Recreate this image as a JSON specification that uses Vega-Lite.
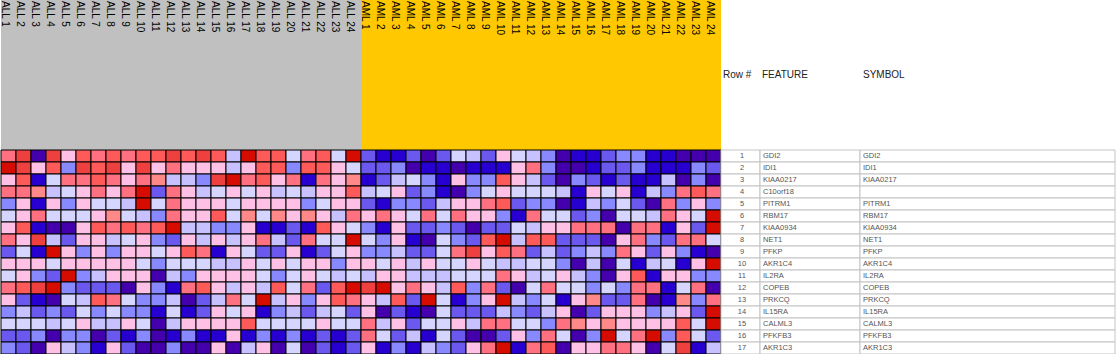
{
"$schema": "https://vega.github.io/schema/vega-lite/v6.json",
"padding": 0,
"background": "white",
"spacing": 0,
"bounds": "flush",
"align": "each",
"columns": 4,
"config": {"view": {"stroke": null}, "concat": {"spacing": 0}, "font": "Liberation Sans"},
"datasets": {
"samples": [
{"s":"ALL 1","g":"ALL"},{"s":"ALL 2","g":"ALL"},{"s":"ALL 3","g":"ALL"},{"s":"ALL 4","g":"ALL"},{"s":"ALL 5","g":"ALL"},{"s":"ALL 6","g":"ALL"},{"s":"ALL 7","g":"ALL"},{"s":"ALL 8","g":"ALL"},{"s":"ALL 9","g":"ALL"},{"s":"ALL 10","g":"ALL"},{"s":"ALL 11","g":"ALL"},{"s":"ALL 12","g":"ALL"},{"s":"ALL 13","g":"ALL"},{"s":"ALL 14","g":"ALL"},{"s":"ALL 15","g":"ALL"},{"s":"ALL 16","g":"ALL"},{"s":"ALL 17","g":"ALL"},{"s":"ALL 18","g":"ALL"},{"s":"ALL 19","g":"ALL"},{"s":"ALL 20","g":"ALL"},{"s":"ALL 21","g":"ALL"},{"s":"ALL 22","g":"ALL"},{"s":"ALL 23","g":"ALL"},{"s":"ALL 24","g":"ALL"},
{"s":"AML 1","g":"AML"},{"s":"AML 2","g":"AML"},{"s":"AML 3","g":"AML"},{"s":"AML 4","g":"AML"},{"s":"AML 5","g":"AML"},{"s":"AML 6","g":"AML"},{"s":"AML 7","g":"AML"},{"s":"AML 8","g":"AML"},{"s":"AML 9","g":"AML"},{"s":"AML 10","g":"AML"},{"s":"AML 11","g":"AML"},{"s":"AML 12","g":"AML"},{"s":"AML 13","g":"AML"},{"s":"AML 14","g":"AML"},{"s":"AML 15","g":"AML"},{"s":"AML 16","g":"AML"},{"s":"AML 17","g":"AML"},{"s":"AML 18","g":"AML"},{"s":"AML 19","g":"AML"},{"s":"AML 20","g":"AML"},{"s":"AML 21","g":"AML"},{"s":"AML 22","g":"AML"},{"s":"AML 23","g":"AML"},{"s":"AML 24","g":"AML"}
],
"genes": [
{"row":1,"feature":"GDI2","symbol":"GDI2"},
{"row":2,"feature":"IDI1","symbol":"IDI1"},
{"row":3,"feature":"KIAA0217","symbol":"KIAA0217"},
{"row":4,"feature":"C10orf18","symbol":""},
{"row":5,"feature":"PITRM1","symbol":"PITRM1"},
{"row":6,"feature":"RBM17","symbol":"RBM17"},
{"row":7,"feature":"KIAA0934","symbol":"KIAA0934"},
{"row":8,"feature":"NET1","symbol":"NET1"},
{"row":9,"feature":"PFKP","symbol":"PFKP"},
{"row":10,"feature":"AKR1C4","symbol":"AKR1C4"},
{"row":11,"feature":"IL2RA","symbol":"IL2RA"},
{"row":12,"feature":"COPEB","symbol":"COPEB"},
{"row":13,"feature":"PRKCQ","symbol":"PRKCQ"},
{"row":14,"feature":"IL15RA","symbol":"IL15RA"},
{"row":15,"feature":"CALML3","symbol":"CALML3"},
{"row":16,"feature":"PFKFB3","symbol":"PFKFB3"},
{"row":17,"feature":"AKR1C3","symbol":"AKR1C3"}
],
"cells": [
{"s":"ALL 1","r":1,"v":8},{"s":"ALL 2","r":1,"v":10},{"s":"ALL 3","r":1,"v":0},{"s":"ALL 4","r":1,"v":10},{"s":"ALL 5","r":1,"v":6},{"s":"ALL 6","r":1,"v":9},{"s":"ALL 7","r":1,"v":8},{"s":"ALL 8","r":1,"v":9},{"s":"ALL 9","r":1,"v":8},{"s":"ALL 10","r":1,"v":9},{"s":"ALL 11","r":1,"v":9},{"s":"ALL 12","r":1,"v":10},
{"s":"ALL 13","r":1,"v":9},{"s":"ALL 14","r":1,"v":10},{"s":"ALL 15","r":1,"v":9},{"s":"ALL 16","r":1,"v":4},{"s":"ALL 17","r":1,"v":11},{"s":"ALL 18","r":1,"v":9},{"s":"ALL 19","r":1,"v":9},{"s":"ALL 20","r":1,"v":5},{"s":"ALL 21","r":1,"v":8},{"s":"ALL 22","r":1,"v":9},{"s":"ALL 23","r":1,"v":5},{"s":"ALL 24","r":1,"v":11},
{"s":"AML 1","r":1,"v":2},{"s":"AML 2","r":1,"v":1},{"s":"AML 3","r":1,"v":1},{"s":"AML 4","r":1,"v":2},{"s":"AML 5","r":1,"v":0},{"s":"AML 6","r":1,"v":2},{"s":"AML 7","r":1,"v":5},{"s":"AML 8","r":1,"v":4},{"s":"AML 9","r":1,"v":2},{"s":"AML 10","r":1,"v":6},{"s":"AML 11","r":1,"v":5},{"s":"AML 12","r":1,"v":4},
{"s":"AML 13","r":1,"v":3},{"s":"AML 14","r":1,"v":0},{"s":"AML 15","r":1,"v":1},{"s":"AML 16","r":1,"v":1},{"s":"AML 17","r":1,"v":2},{"s":"AML 18","r":1,"v":3},{"s":"AML 19","r":1,"v":3},{"s":"AML 20","r":1,"v":1},{"s":"AML 21","r":1,"v":1},{"s":"AML 22","r":1,"v":0},{"s":"AML 23","r":1,"v":0},{"s":"AML 24","r":1,"v":0},
{"s":"ALL 1","r":2,"v":11},{"s":"ALL 2","r":2,"v":10},{"s":"ALL 3","r":2,"v":6},{"s":"ALL 4","r":2,"v":9},{"s":"ALL 5","r":2,"v":3},{"s":"ALL 6","r":2,"v":10},{"s":"ALL 7","r":2,"v":9},{"s":"ALL 8","r":2,"v":10},{"s":"ALL 9","r":2,"v":6},{"s":"ALL 10","r":2,"v":10},{"s":"ALL 11","r":2,"v":6},{"s":"ALL 12","r":2,"v":8},
{"s":"ALL 13","r":2,"v":6},{"s":"ALL 14","r":2,"v":6},{"s":"ALL 15","r":2,"v":6},{"s":"ALL 16","r":2,"v":4},{"s":"ALL 17","r":2,"v":6},{"s":"ALL 18","r":2,"v":9},{"s":"ALL 19","r":2,"v":9},{"s":"ALL 20","r":2,"v":3},{"s":"ALL 21","r":2,"v":9},{"s":"ALL 22","r":2,"v":9},{"s":"ALL 23","r":2,"v":6},{"s":"ALL 24","r":2,"v":5},
{"s":"AML 1","r":2,"v":2},{"s":"AML 2","r":2,"v":2},{"s":"AML 3","r":2,"v":3},{"s":"AML 4","r":2,"v":0},{"s":"AML 5","r":2,"v":1},{"s":"AML 6","r":2,"v":1},{"s":"AML 7","r":2,"v":0},{"s":"AML 8","r":2,"v":1},{"s":"AML 9","r":2,"v":1},{"s":"AML 10","r":2,"v":1},{"s":"AML 11","r":2,"v":6},{"s":"AML 12","r":2,"v":8},
{"s":"AML 13","r":2,"v":3},{"s":"AML 14","r":2,"v":0},{"s":"AML 15","r":2,"v":0},{"s":"AML 16","r":2,"v":1},{"s":"AML 17","r":2,"v":2},{"s":"AML 18","r":2,"v":2},{"s":"AML 19","r":2,"v":3},{"s":"AML 20","r":2,"v":1},{"s":"AML 21","r":2,"v":1},{"s":"AML 22","r":2,"v":1},{"s":"AML 23","r":2,"v":3},{"s":"AML 24","r":2,"v":2},
{"s":"ALL 1","r":3,"v":6},{"s":"ALL 2","r":3,"v":9},{"s":"ALL 3","r":3,"v":1},{"s":"ALL 4","r":3,"v":5},{"s":"ALL 5","r":3,"v":8},{"s":"ALL 6","r":3,"v":8},{"s":"ALL 7","r":3,"v":9},{"s":"ALL 8","r":3,"v":8},{"s":"ALL 9","r":3,"v":6},{"s":"ALL 10","r":3,"v":8},{"s":"ALL 11","r":3,"v":7},{"s":"ALL 12","r":3,"v":4},
{"s":"ALL 13","r":3,"v":4},{"s":"ALL 14","r":3,"v":3},{"s":"ALL 15","r":3,"v":10},{"s":"ALL 16","r":3,"v":11},{"s":"ALL 17","r":3,"v":8},{"s":"ALL 18","r":3,"v":9},{"s":"ALL 19","r":3,"v":6},{"s":"ALL 20","r":3,"v":8},{"s":"ALL 21","r":3,"v":1},{"s":"ALL 22","r":3,"v":8},{"s":"ALL 23","r":3,"v":6},{"s":"ALL 24","r":3,"v":7},
{"s":"AML 1","r":3,"v":1},{"s":"AML 2","r":3,"v":2},{"s":"AML 3","r":3,"v":4},{"s":"AML 4","r":3,"v":5},{"s":"AML 5","r":3,"v":3},{"s":"AML 6","r":3,"v":1},{"s":"AML 7","r":3,"v":6},{"s":"AML 8","r":3,"v":3},{"s":"AML 9","r":3,"v":3},{"s":"AML 10","r":3,"v":9},{"s":"AML 11","r":3,"v":6},{"s":"AML 12","r":3,"v":4},
{"s":"AML 13","r":3,"v":2},{"s":"AML 14","r":3,"v":0},{"s":"AML 15","r":3,"v":3},{"s":"AML 16","r":3,"v":2},{"s":"AML 17","r":3,"v":1},{"s":"AML 18","r":3,"v":2},{"s":"AML 19","r":3,"v":1},{"s":"AML 20","r":3,"v":1},{"s":"AML 21","r":3,"v":4},{"s":"AML 22","r":3,"v":0},{"s":"AML 23","r":3,"v":3},{"s":"AML 24","r":3,"v":0},
{"s":"ALL 1","r":4,"v":8},{"s":"ALL 2","r":4,"v":8},{"s":"ALL 3","r":4,"v":7},{"s":"ALL 4","r":4,"v":4},{"s":"ALL 5","r":4,"v":5},{"s":"ALL 6","r":4,"v":6},{"s":"ALL 7","r":4,"v":8},{"s":"ALL 8","r":4,"v":6},{"s":"ALL 9","r":4,"v":8},{"s":"ALL 10","r":4,"v":11},{"s":"ALL 11","r":4,"v":2},{"s":"ALL 12","r":4,"v":8},
{"s":"ALL 13","r":4,"v":6},{"s":"ALL 14","r":4,"v":4},{"s":"ALL 15","r":4,"v":5},{"s":"ALL 16","r":4,"v":6},{"s":"ALL 17","r":4,"v":5},{"s":"ALL 18","r":4,"v":6},{"s":"ALL 19","r":4,"v":4},{"s":"ALL 20","r":4,"v":5},{"s":"ALL 21","r":4,"v":4},{"s":"ALL 22","r":4,"v":6},{"s":"ALL 23","r":4,"v":6},{"s":"ALL 24","r":4,"v":9},
{"s":"AML 1","r":4,"v":4},{"s":"AML 2","r":4,"v":5},{"s":"AML 3","r":4,"v":6},{"s":"AML 4","r":4,"v":2},{"s":"AML 5","r":4,"v":3},{"s":"AML 6","r":4,"v":1},{"s":"AML 7","r":4,"v":0},{"s":"AML 8","r":4,"v":3},{"s":"AML 9","r":4,"v":5},{"s":"AML 10","r":4,"v":6},{"s":"AML 11","r":4,"v":5},{"s":"AML 12","r":4,"v":5},
{"s":"AML 13","r":4,"v":5},{"s":"AML 14","r":4,"v":4},{"s":"AML 15","r":4,"v":1},{"s":"AML 16","r":4,"v":6},{"s":"AML 17","r":4,"v":5},{"s":"AML 18","r":4,"v":6},{"s":"AML 19","r":4,"v":1},{"s":"AML 20","r":4,"v":4},{"s":"AML 21","r":4,"v":3},{"s":"AML 22","r":4,"v":8},{"s":"AML 23","r":4,"v":9},{"s":"AML 24","r":4,"v":8},
{"s":"ALL 1","r":5,"v":3},{"s":"ALL 2","r":5,"v":6},{"s":"ALL 3","r":5,"v":1},{"s":"ALL 4","r":5,"v":6},{"s":"ALL 5","r":5,"v":3},{"s":"ALL 6","r":5,"v":6},{"s":"ALL 7","r":5,"v":5},{"s":"ALL 8","r":5,"v":5},{"s":"ALL 9","r":5,"v":4},{"s":"ALL 10","r":5,"v":11},{"s":"ALL 11","r":5,"v":5},{"s":"ALL 12","r":5,"v":8},
{"s":"ALL 13","r":5,"v":6},{"s":"ALL 14","r":5,"v":6},{"s":"ALL 15","r":5,"v":6},{"s":"ALL 16","r":5,"v":5},{"s":"ALL 17","r":5,"v":6},{"s":"ALL 18","r":5,"v":6},{"s":"ALL 19","r":5,"v":6},{"s":"ALL 20","r":5,"v":6},{"s":"ALL 21","r":5,"v":3},{"s":"ALL 22","r":5,"v":5},{"s":"ALL 23","r":5,"v":6},{"s":"ALL 24","r":5,"v":6},
{"s":"AML 1","r":5,"v":2},{"s":"AML 2","r":5,"v":1},{"s":"AML 3","r":5,"v":3},{"s":"AML 4","r":5,"v":3},{"s":"AML 5","r":5,"v":2},{"s":"AML 6","r":5,"v":4},{"s":"AML 7","r":5,"v":6},{"s":"AML 8","r":5,"v":6},{"s":"AML 9","r":5,"v":8},{"s":"AML 10","r":5,"v":9},{"s":"AML 11","r":5,"v":2},{"s":"AML 12","r":5,"v":3},
{"s":"AML 13","r":5,"v":3},{"s":"AML 14","r":5,"v":0},{"s":"AML 15","r":5,"v":1},{"s":"AML 16","r":5,"v":4},{"s":"AML 17","r":5,"v":3},{"s":"AML 18","r":5,"v":5},{"s":"AML 19","r":5,"v":2},{"s":"AML 20","r":5,"v":0},{"s":"AML 21","r":5,"v":8},{"s":"AML 22","r":5,"v":3},{"s":"AML 23","r":5,"v":6},{"s":"AML 24","r":5,"v":3},
{"s":"ALL 1","r":6,"v":5},{"s":"ALL 2","r":6,"v":6},{"s":"ALL 3","r":6,"v":8},{"s":"ALL 4","r":6,"v":5},{"s":"ALL 5","r":6,"v":5},{"s":"ALL 6","r":6,"v":5},{"s":"ALL 7","r":6,"v":6},{"s":"ALL 8","r":6,"v":7},{"s":"ALL 9","r":6,"v":5},{"s":"ALL 10","r":6,"v":4},{"s":"ALL 11","r":6,"v":3},{"s":"ALL 12","r":6,"v":8},
{"s":"ALL 13","r":6,"v":6},{"s":"ALL 14","r":6,"v":6},{"s":"ALL 15","r":6,"v":9},{"s":"ALL 16","r":6,"v":5},{"s":"ALL 17","r":6,"v":7},{"s":"ALL 18","r":6,"v":5},{"s":"ALL 19","r":6,"v":7},{"s":"ALL 20","r":6,"v":6},{"s":"ALL 21","r":6,"v":7},{"s":"ALL 22","r":6,"v":6},{"s":"ALL 23","r":6,"v":4},{"s":"ALL 24","r":6,"v":8},
{"s":"AML 1","r":6,"v":6},{"s":"AML 2","r":6,"v":8},{"s":"AML 3","r":6,"v":6},{"s":"AML 4","r":6,"v":5},{"s":"AML 5","r":6,"v":8},{"s":"AML 6","r":6,"v":5},{"s":"AML 7","r":6,"v":8},{"s":"AML 8","r":6,"v":6},{"s":"AML 9","r":6,"v":6},{"s":"AML 10","r":6,"v":3},{"s":"AML 11","r":6,"v":1},{"s":"AML 12","r":6,"v":8},
{"s":"AML 13","r":6,"v":5},{"s":"AML 14","r":6,"v":5},{"s":"AML 15","r":6,"v":2},{"s":"AML 16","r":6,"v":3},{"s":"AML 17","r":6,"v":0},{"s":"AML 18","r":6,"v":5},{"s":"AML 19","r":6,"v":5},{"s":"AML 20","r":6,"v":4},{"s":"AML 21","r":6,"v":8},{"s":"AML 22","r":6,"v":6},{"s":"AML 23","r":6,"v":5},{"s":"AML 24","r":6,"v":11},
{"s":"ALL 1","r":7,"v":6},{"s":"ALL 2","r":7,"v":9},{"s":"ALL 3","r":7,"v":1},{"s":"ALL 4","r":7,"v":0},{"s":"ALL 5","r":7,"v":0},{"s":"ALL 6","r":7,"v":6},{"s":"ALL 7","r":7,"v":9},{"s":"ALL 8","r":7,"v":8},{"s":"ALL 9","r":7,"v":9},{"s":"ALL 10","r":7,"v":8},{"s":"ALL 11","r":7,"v":9},{"s":"ALL 12","r":7,"v":11},
{"s":"ALL 13","r":7,"v":4},{"s":"ALL 14","r":7,"v":4},{"s":"ALL 15","r":7,"v":3},{"s":"ALL 16","r":7,"v":3},{"s":"ALL 17","r":7,"v":6},{"s":"ALL 18","r":7,"v":1},{"s":"ALL 19","r":7,"v":1},{"s":"ALL 20","r":7,"v":2},{"s":"ALL 21","r":7,"v":1},{"s":"ALL 22","r":7,"v":9},{"s":"ALL 23","r":7,"v":6},{"s":"ALL 24","r":7,"v":5},
{"s":"AML 1","r":7,"v":3},{"s":"AML 2","r":7,"v":1},{"s":"AML 3","r":7,"v":6},{"s":"AML 4","r":7,"v":2},{"s":"AML 5","r":7,"v":2},{"s":"AML 6","r":7,"v":3},{"s":"AML 7","r":7,"v":2},{"s":"AML 8","r":7,"v":0},{"s":"AML 9","r":7,"v":2},{"s":"AML 10","r":7,"v":2},{"s":"AML 11","r":7,"v":5},{"s":"AML 12","r":7,"v":4},
{"s":"AML 13","r":7,"v":6},{"s":"AML 14","r":7,"v":6},{"s":"AML 15","r":7,"v":8},{"s":"AML 16","r":7,"v":8},{"s":"AML 17","r":7,"v":8},{"s":"AML 18","r":7,"v":0},{"s":"AML 19","r":7,"v":8},{"s":"AML 20","r":7,"v":8},{"s":"AML 21","r":7,"v":1},{"s":"AML 22","r":7,"v":6},{"s":"AML 23","r":7,"v":2},{"s":"AML 24","r":7,"v":11},
{"s":"ALL 1","r":8,"v":8},{"s":"ALL 2","r":8,"v":6},{"s":"ALL 3","r":8,"v":10},{"s":"ALL 4","r":8,"v":4},{"s":"ALL 5","r":8,"v":2},{"s":"ALL 6","r":8,"v":6},{"s":"ALL 7","r":8,"v":6},{"s":"ALL 8","r":8,"v":4},{"s":"ALL 9","r":8,"v":5},{"s":"ALL 10","r":8,"v":6},{"s":"ALL 11","r":8,"v":3},{"s":"ALL 12","r":8,"v":2},
{"s":"ALL 13","r":8,"v":6},{"s":"ALL 14","r":8,"v":4},{"s":"ALL 15","r":8,"v":6},{"s":"ALL 16","r":8,"v":4},{"s":"ALL 17","r":8,"v":6},{"s":"ALL 18","r":8,"v":8},{"s":"ALL 19","r":8,"v":4},{"s":"ALL 20","r":8,"v":2},{"s":"ALL 21","r":8,"v":8},{"s":"ALL 22","r":8,"v":5},{"s":"ALL 23","r":8,"v":5},{"s":"ALL 24","r":8,"v":11},
{"s":"AML 1","r":8,"v":5},{"s":"AML 2","r":8,"v":3},{"s":"AML 3","r":8,"v":6},{"s":"AML 4","r":8,"v":1},{"s":"AML 5","r":8,"v":0},{"s":"AML 6","r":8,"v":5},{"s":"AML 7","r":8,"v":3},{"s":"AML 8","r":8,"v":2},{"s":"AML 9","r":8,"v":9},{"s":"AML 10","r":8,"v":11},{"s":"AML 11","r":8,"v":4},{"s":"AML 12","r":8,"v":9},
{"s":"AML 13","r":8,"v":9},{"s":"AML 14","r":8,"v":2},{"s":"AML 15","r":8,"v":2},{"s":"AML 16","r":8,"v":2},{"s":"AML 17","r":8,"v":0},{"s":"AML 18","r":8,"v":6},{"s":"AML 19","r":8,"v":8},{"s":"AML 20","r":8,"v":3},{"s":"AML 21","r":8,"v":2},{"s":"AML 22","r":8,"v":8},{"s":"AML 23","r":8,"v":8},{"s":"AML 24","r":8,"v":5},
{"s":"ALL 1","r":9,"v":2},{"s":"ALL 2","r":9,"v":5},{"s":"ALL 3","r":9,"v":1},{"s":"ALL 4","r":9,"v":11},{"s":"ALL 5","r":9,"v":6},{"s":"ALL 6","r":9,"v":3},{"s":"ALL 7","r":9,"v":6},{"s":"ALL 8","r":9,"v":3},{"s":"ALL 9","r":9,"v":6},{"s":"ALL 10","r":9,"v":6},{"s":"ALL 11","r":9,"v":5},{"s":"ALL 12","r":9,"v":6},
{"s":"ALL 13","r":9,"v":9},{"s":"ALL 14","r":9,"v":8},{"s":"ALL 15","r":9,"v":1},{"s":"ALL 16","r":9,"v":6},{"s":"ALL 17","r":9,"v":5},{"s":"ALL 18","r":9,"v":2},{"s":"ALL 19","r":9,"v":2},{"s":"ALL 20","r":9,"v":6},{"s":"ALL 21","r":9,"v":1},{"s":"ALL 22","r":9,"v":2},{"s":"ALL 23","r":9,"v":5},{"s":"ALL 24","r":9,"v":6},
{"s":"AML 1","r":9,"v":3},{"s":"AML 2","r":9,"v":3},{"s":"AML 3","r":9,"v":4},{"s":"AML 4","r":9,"v":2},{"s":"AML 5","r":9,"v":2},{"s":"AML 6","r":9,"v":5},{"s":"AML 7","r":9,"v":8},{"s":"AML 8","r":9,"v":10},{"s":"AML 9","r":9,"v":6},{"s":"AML 10","r":9,"v":9},{"s":"AML 11","r":9,"v":8},{"s":"AML 12","r":9,"v":2},
{"s":"AML 13","r":9,"v":4},{"s":"AML 14","r":9,"v":2},{"s":"AML 15","r":9,"v":3},{"s":"AML 16","r":9,"v":4},{"s":"AML 17","r":9,"v":3},{"s":"AML 18","r":9,"v":8},{"s":"AML 19","r":9,"v":6},{"s":"AML 20","r":9,"v":2},{"s":"AML 21","r":9,"v":6},{"s":"AML 22","r":9,"v":3},{"s":"AML 23","r":9,"v":1},{"s":"AML 24","r":9,"v":0},
{"s":"ALL 1","r":10,"v":6},{"s":"ALL 2","r":10,"v":6},{"s":"ALL 3","r":10,"v":6},{"s":"ALL 4","r":10,"v":5},{"s":"ALL 5","r":10,"v":6},{"s":"ALL 6","r":10,"v":6},{"s":"ALL 7","r":10,"v":6},{"s":"ALL 8","r":10,"v":6},{"s":"ALL 9","r":10,"v":6},{"s":"ALL 10","r":10,"v":5},{"s":"ALL 11","r":10,"v":3},{"s":"ALL 12","r":10,"v":5},
{"s":"ALL 13","r":10,"v":5},{"s":"ALL 14","r":10,"v":5},{"s":"ALL 15","r":10,"v":4},{"s":"ALL 16","r":10,"v":4},{"s":"ALL 17","r":10,"v":6},{"s":"ALL 18","r":10,"v":5},{"s":"ALL 19","r":10,"v":6},{"s":"ALL 20","r":10,"v":5},{"s":"ALL 21","r":10,"v":6},{"s":"ALL 22","r":10,"v":6},{"s":"ALL 23","r":10,"v":3},{"s":"ALL 24","r":10,"v":6},
{"s":"AML 1","r":10,"v":6},{"s":"AML 2","r":10,"v":5},{"s":"AML 3","r":10,"v":6},{"s":"AML 4","r":10,"v":4},{"s":"AML 5","r":10,"v":6},{"s":"AML 6","r":10,"v":5},{"s":"AML 7","r":10,"v":5},{"s":"AML 8","r":10,"v":6},{"s":"AML 9","r":10,"v":5},{"s":"AML 10","r":10,"v":4},{"s":"AML 11","r":10,"v":4},{"s":"AML 12","r":10,"v":5},
{"s":"AML 13","r":10,"v":5},{"s":"AML 14","r":10,"v":3},{"s":"AML 15","r":10,"v":0},{"s":"AML 16","r":10,"v":4},{"s":"AML 17","r":10,"v":0},{"s":"AML 18","r":10,"v":5},{"s":"AML 19","r":10,"v":1},{"s":"AML 20","r":10,"v":4},{"s":"AML 21","r":10,"v":5},{"s":"AML 22","r":10,"v":1},{"s":"AML 23","r":10,"v":6},{"s":"AML 24","r":10,"v":11},
{"s":"ALL 1","r":11,"v":5},{"s":"ALL 2","r":11,"v":6},{"s":"ALL 3","r":11,"v":3},{"s":"ALL 4","r":11,"v":2},{"s":"ALL 5","r":11,"v":11},{"s":"ALL 6","r":11,"v":3},{"s":"ALL 7","r":11,"v":4},{"s":"ALL 8","r":11,"v":6},{"s":"ALL 9","r":11,"v":6},{"s":"ALL 10","r":11,"v":6},{"s":"ALL 11","r":11,"v":0},{"s":"ALL 12","r":11,"v":4},
{"s":"ALL 13","r":11,"v":3},{"s":"ALL 14","r":11,"v":6},{"s":"ALL 15","r":11,"v":6},{"s":"ALL 16","r":11,"v":6},{"s":"ALL 17","r":11,"v":6},{"s":"ALL 18","r":11,"v":5},{"s":"ALL 19","r":11,"v":3},{"s":"ALL 20","r":11,"v":5},{"s":"ALL 21","r":11,"v":6},{"s":"ALL 22","r":11,"v":5},{"s":"ALL 23","r":11,"v":4},{"s":"ALL 24","r":11,"v":5},
{"s":"AML 1","r":11,"v":4},{"s":"AML 2","r":11,"v":6},{"s":"AML 3","r":11,"v":6},{"s":"AML 4","r":11,"v":4},{"s":"AML 5","r":11,"v":4},{"s":"AML 6","r":11,"v":4},{"s":"AML 7","r":11,"v":5},{"s":"AML 8","r":11,"v":5},{"s":"AML 9","r":11,"v":5},{"s":"AML 10","r":11,"v":8},{"s":"AML 11","r":11,"v":6},{"s":"AML 12","r":11,"v":4},
{"s":"AML 13","r":11,"v":5},{"s":"AML 14","r":11,"v":6},{"s":"AML 15","r":11,"v":4},{"s":"AML 16","r":11,"v":3},{"s":"AML 17","r":11,"v":0},{"s":"AML 18","r":11,"v":6},{"s":"AML 19","r":11,"v":9},{"s":"AML 20","r":11,"v":1},{"s":"AML 21","r":11,"v":6},{"s":"AML 22","r":11,"v":6},{"s":"AML 23","r":11,"v":3},{"s":"AML 24","r":11,"v":3},
{"s":"ALL 1","r":12,"v":8},{"s":"ALL 2","r":12,"v":9},{"s":"ALL 3","r":12,"v":10},{"s":"ALL 4","r":12,"v":11},{"s":"ALL 5","r":12,"v":3},{"s":"ALL 6","r":12,"v":2},{"s":"ALL 7","r":12,"v":2},{"s":"ALL 8","r":12,"v":2},{"s":"ALL 9","r":12,"v":0},{"s":"ALL 10","r":12,"v":6},{"s":"ALL 11","r":12,"v":3},{"s":"ALL 12","r":12,"v":1},
{"s":"ALL 13","r":12,"v":8},{"s":"ALL 14","r":12,"v":9},{"s":"ALL 15","r":12,"v":6},{"s":"ALL 16","r":12,"v":4},{"s":"ALL 17","r":12,"v":6},{"s":"ALL 18","r":12,"v":4},{"s":"ALL 19","r":12,"v":9},{"s":"ALL 20","r":12,"v":5},{"s":"ALL 21","r":12,"v":8},{"s":"ALL 22","r":12,"v":2},{"s":"ALL 23","r":12,"v":9},{"s":"ALL 24","r":12,"v":11},
{"s":"AML 1","r":12,"v":10},{"s":"AML 2","r":12,"v":11},{"s":"AML 3","r":12,"v":6},{"s":"AML 4","r":12,"v":8},{"s":"AML 5","r":12,"v":6},{"s":"AML 6","r":12,"v":4},{"s":"AML 7","r":12,"v":9},{"s":"AML 8","r":12,"v":3},{"s":"AML 9","r":12,"v":8},{"s":"AML 10","r":12,"v":2},{"s":"AML 11","r":12,"v":0},{"s":"AML 12","r":12,"v":5},
{"s":"AML 13","r":12,"v":8},{"s":"AML 14","r":12,"v":5},{"s":"AML 15","r":12,"v":5},{"s":"AML 16","r":12,"v":3},{"s":"AML 17","r":12,"v":5},{"s":"AML 18","r":12,"v":3},{"s":"AML 19","r":12,"v":8},{"s":"AML 20","r":12,"v":8},{"s":"AML 21","r":12,"v":1},{"s":"AML 22","r":12,"v":5},{"s":"AML 23","r":12,"v":8},{"s":"AML 24","r":12,"v":0},
{"s":"ALL 1","r":13,"v":6},{"s":"ALL 2","r":13,"v":2},{"s":"ALL 3","r":13,"v":1},{"s":"ALL 4","r":13,"v":0},{"s":"ALL 5","r":13,"v":5},{"s":"ALL 6","r":13,"v":4},{"s":"ALL 7","r":13,"v":9},{"s":"ALL 8","r":13,"v":8},{"s":"ALL 9","r":13,"v":5},{"s":"ALL 10","r":13,"v":3},{"s":"ALL 11","r":13,"v":3},{"s":"ALL 12","r":13,"v":4},
{"s":"ALL 13","r":13,"v":0},{"s":"ALL 14","r":13,"v":2},{"s":"ALL 15","r":13,"v":4},{"s":"ALL 16","r":13,"v":8},{"s":"ALL 17","r":13,"v":5},{"s":"ALL 18","r":13,"v":11},{"s":"ALL 19","r":13,"v":4},{"s":"ALL 20","r":13,"v":6},{"s":"ALL 21","r":13,"v":3},{"s":"ALL 22","r":13,"v":6},{"s":"ALL 23","r":13,"v":9},{"s":"ALL 24","r":13,"v":8},
{"s":"AML 1","r":13,"v":6},{"s":"AML 2","r":13,"v":4},{"s":"AML 3","r":13,"v":9},{"s":"AML 4","r":13,"v":2},{"s":"AML 5","r":13,"v":11},{"s":"AML 6","r":13,"v":5},{"s":"AML 7","r":13,"v":1},{"s":"AML 8","r":13,"v":3},{"s":"AML 9","r":13,"v":6},{"s":"AML 10","r":13,"v":11},{"s":"AML 11","r":13,"v":4},{"s":"AML 12","r":13,"v":3},
{"s":"AML 13","r":13,"v":5},{"s":"AML 14","r":13,"v":1},{"s":"AML 15","r":13,"v":6},{"s":"AML 16","r":13,"v":7},{"s":"AML 17","r":13,"v":2},{"s":"AML 18","r":13,"v":2},{"s":"AML 19","r":13,"v":8},{"s":"AML 20","r":13,"v":0},{"s":"AML 21","r":13,"v":1},{"s":"AML 22","r":13,"v":7},{"s":"AML 23","r":13,"v":3},{"s":"AML 24","r":13,"v":8},
{"s":"ALL 1","r":14,"v":3},{"s":"ALL 2","r":14,"v":4},{"s":"ALL 3","r":14,"v":2},{"s":"ALL 4","r":14,"v":3},{"s":"ALL 5","r":14,"v":2},{"s":"ALL 6","r":14,"v":5},{"s":"ALL 7","r":14,"v":3},{"s":"ALL 8","r":14,"v":5},{"s":"ALL 9","r":14,"v":3},{"s":"ALL 10","r":14,"v":3},{"s":"ALL 11","r":14,"v":1},{"s":"ALL 12","r":14,"v":5},
{"s":"ALL 13","r":14,"v":1},{"s":"ALL 14","r":14,"v":2},{"s":"ALL 15","r":14,"v":6},{"s":"ALL 16","r":14,"v":5},{"s":"ALL 17","r":14,"v":6},{"s":"ALL 18","r":14,"v":1},{"s":"ALL 19","r":14,"v":3},{"s":"ALL 20","r":14,"v":4},{"s":"ALL 21","r":14,"v":2},{"s":"ALL 22","r":14,"v":4},{"s":"ALL 23","r":14,"v":5},{"s":"ALL 24","r":14,"v":2},
{"s":"AML 1","r":14,"v":6},{"s":"AML 2","r":14,"v":0},{"s":"AML 3","r":14,"v":2},{"s":"AML 4","r":14,"v":1},{"s":"AML 5","r":14,"v":0},{"s":"AML 6","r":14,"v":5},{"s":"AML 7","r":14,"v":2},{"s":"AML 8","r":14,"v":2},{"s":"AML 9","r":14,"v":2},{"s":"AML 10","r":14,"v":4},{"s":"AML 11","r":14,"v":3},{"s":"AML 12","r":14,"v":2},
{"s":"AML 13","r":14,"v":4},{"s":"AML 14","r":14,"v":6},{"s":"AML 15","r":14,"v":0},{"s":"AML 16","r":14,"v":2},{"s":"AML 17","r":14,"v":6},{"s":"AML 18","r":14,"v":6},{"s":"AML 19","r":14,"v":6},{"s":"AML 20","r":14,"v":3},{"s":"AML 21","r":14,"v":4},{"s":"AML 22","r":14,"v":6},{"s":"AML 23","r":14,"v":2},{"s":"AML 24","r":14,"v":11},
{"s":"ALL 1","r":15,"v":5},{"s":"ALL 2","r":15,"v":5},{"s":"ALL 3","r":15,"v":5},{"s":"ALL 4","r":15,"v":4},{"s":"ALL 5","r":15,"v":5},{"s":"ALL 6","r":15,"v":6},{"s":"ALL 7","r":15,"v":4},{"s":"ALL 8","r":15,"v":4},{"s":"ALL 9","r":15,"v":6},{"s":"ALL 10","r":15,"v":5},{"s":"ALL 11","r":15,"v":0},{"s":"ALL 12","r":15,"v":4},
{"s":"ALL 13","r":15,"v":6},{"s":"ALL 14","r":15,"v":6},{"s":"ALL 15","r":15,"v":6},{"s":"ALL 16","r":15,"v":6},{"s":"ALL 17","r":15,"v":9},{"s":"ALL 18","r":15,"v":5},{"s":"ALL 19","r":15,"v":5},{"s":"ALL 20","r":15,"v":5},{"s":"ALL 21","r":15,"v":5},{"s":"ALL 22","r":15,"v":6},{"s":"ALL 23","r":15,"v":5},{"s":"ALL 24","r":15,"v":5},
{"s":"AML 1","r":15,"v":8},{"s":"AML 2","r":15,"v":4},{"s":"AML 3","r":15,"v":6},{"s":"AML 4","r":15,"v":2},{"s":"AML 5","r":15,"v":5},{"s":"AML 6","r":15,"v":5},{"s":"AML 7","r":15,"v":6},{"s":"AML 8","r":15,"v":4},{"s":"AML 9","r":15,"v":8},{"s":"AML 10","r":15,"v":8},{"s":"AML 11","r":15,"v":5},{"s":"AML 12","r":15,"v":5},
{"s":"AML 13","r":15,"v":3},{"s":"AML 14","r":15,"v":8},{"s":"AML 15","r":15,"v":7},{"s":"AML 16","r":15,"v":6},{"s":"AML 17","r":15,"v":7},{"s":"AML 18","r":15,"v":6},{"s":"AML 19","r":15,"v":6},{"s":"AML 20","r":15,"v":6},{"s":"AML 21","r":15,"v":6},{"s":"AML 22","r":15,"v":9},{"s":"AML 23","r":15,"v":5},{"s":"AML 24","r":15,"v":11},
{"s":"ALL 1","r":16,"v":2},{"s":"ALL 2","r":16,"v":2},{"s":"ALL 3","r":16,"v":3},{"s":"ALL 4","r":16,"v":0},{"s":"ALL 5","r":16,"v":3},{"s":"ALL 6","r":16,"v":3},{"s":"ALL 7","r":16,"v":0},{"s":"ALL 8","r":16,"v":2},{"s":"ALL 9","r":16,"v":1},{"s":"ALL 10","r":16,"v":3},{"s":"ALL 11","r":16,"v":0},{"s":"ALL 12","r":16,"v":1},
{"s":"ALL 13","r":16,"v":3},{"s":"ALL 14","r":16,"v":1},{"s":"ALL 15","r":16,"v":1},{"s":"ALL 16","r":16,"v":6},{"s":"ALL 17","r":16,"v":1},{"s":"ALL 18","r":16,"v":3},{"s":"ALL 19","r":16,"v":1},{"s":"ALL 20","r":16,"v":3},{"s":"ALL 21","r":16,"v":1},{"s":"ALL 22","r":16,"v":2},{"s":"ALL 23","r":16,"v":1},{"s":"ALL 24","r":16,"v":2},
{"s":"AML 1","r":16,"v":8},{"s":"AML 2","r":16,"v":5},{"s":"AML 3","r":16,"v":2},{"s":"AML 4","r":16,"v":4},{"s":"AML 5","r":16,"v":1},{"s":"AML 6","r":16,"v":5},{"s":"AML 7","r":16,"v":2},{"s":"AML 8","r":16,"v":0},{"s":"AML 9","r":16,"v":0},{"s":"AML 10","r":16,"v":2},{"s":"AML 11","r":16,"v":6},{"s":"AML 12","r":16,"v":3},
{"s":"AML 13","r":16,"v":8},{"s":"AML 14","r":16,"v":5},{"s":"AML 15","r":16,"v":0},{"s":"AML 16","r":16,"v":3},{"s":"AML 17","r":16,"v":11},{"s":"AML 18","r":16,"v":5},{"s":"AML 19","r":16,"v":8},{"s":"AML 20","r":16,"v":11},{"s":"AML 21","r":16,"v":3},{"s":"AML 22","r":16,"v":9},{"s":"AML 23","r":16,"v":5},{"s":"AML 24","r":16,"v":2},
{"s":"ALL 1","r":17,"v":3},{"s":"ALL 2","r":17,"v":2},{"s":"ALL 3","r":17,"v":0},{"s":"ALL 4","r":17,"v":6},{"s":"ALL 5","r":17,"v":4},{"s":"ALL 6","r":17,"v":3},{"s":"ALL 7","r":17,"v":1},{"s":"ALL 8","r":17,"v":6},{"s":"ALL 9","r":17,"v":2},{"s":"ALL 10","r":17,"v":0},{"s":"ALL 11","r":17,"v":0},{"s":"ALL 12","r":17,"v":3},
{"s":"ALL 13","r":17,"v":0},{"s":"ALL 14","r":17,"v":0},{"s":"ALL 15","r":17,"v":6},{"s":"ALL 16","r":17,"v":0},{"s":"ALL 17","r":17,"v":4},{"s":"ALL 18","r":17,"v":6},{"s":"ALL 19","r":17,"v":0},{"s":"ALL 20","r":17,"v":5},{"s":"ALL 21","r":17,"v":0},{"s":"ALL 22","r":17,"v":2},{"s":"ALL 23","r":17,"v":1},{"s":"ALL 24","r":17,"v":2},
{"s":"AML 1","r":17,"v":6},{"s":"AML 2","r":17,"v":1},{"s":"AML 3","r":17,"v":3},{"s":"AML 4","r":17,"v":1},{"s":"AML 5","r":17,"v":4},{"s":"AML 6","r":17,"v":3},{"s":"AML 7","r":17,"v":2},{"s":"AML 8","r":17,"v":6},{"s":"AML 9","r":17,"v":8},{"s":"AML 10","r":17,"v":11},{"s":"AML 11","r":17,"v":1},{"s":"AML 12","r":17,"v":8},
{"s":"AML 13","r":17,"v":9},{"s":"AML 14","r":17,"v":0},{"s":"AML 15","r":17,"v":6},{"s":"AML 16","r":17,"v":6},{"s":"AML 17","r":17,"v":8},{"s":"AML 18","r":17,"v":8},{"s":"AML 19","r":17,"v":6},{"s":"AML 20","r":17,"v":0},{"s":"AML 21","r":17,"v":5},{"s":"AML 22","r":17,"v":10},{"s":"AML 23","r":17,"v":1},{"s":"AML 24","r":17,"v":4}
]
},
"resolve": {"scale": {"x": "independent", "y": "independent", "color": "independent"}},
"concat": [
{
"width": 720, "height": 150,
"data": {"name": "samples"},
"layer": [
{"mark": {"type": "rect"},
 "encoding": {
  "x": {"field": "s", "type": "nominal", "sort": null, "axis": null, "scale": {"paddingInner": 0, "paddingOuter": 0}},
  "color": {"field": "g", "type": "nominal", "scale": {"domain": ["ALL", "AML"], "range": ["#C0C0C0", "#FFC800"]}, "legend": null}
 }},
{"mark": {"type": "text", "angle": 90, "align": "left", "baseline": "middle", "fontSize": 10, "color": "#000000"},
 "encoding": {
  "x": {"field": "s", "type": "nominal", "sort": null, "axis": null, "bandPosition": 0.27},
  "y": {"value": 1},
  "text": {"field": "s"}
 }}
]
},
{"width": 39, "height": 150, "data": {"values": [{"label": "Row #"}]},
 "mark": {"type": "text", "align": "left", "baseline": "middle", "fontSize": 10, "color": "#222222"},
 "encoding": {"x": {"value": 2}, "text": {"field": "label"}}},
{"width": 100, "height": 150, "data": {"values": [{"label": "FEATURE"}]},
 "mark": {"type": "text", "align": "left", "baseline": "middle", "fontSize": 10, "color": "#222222"},
 "encoding": {"x": {"value": 2}, "text": {"field": "label"}}},
{"width": 255, "height": 150, "data": {"values": [{"label": "SYMBOL"}]},
 "mark": {"type": "text", "align": "left", "baseline": "middle", "fontSize": 10, "color": "#222222"},
 "encoding": {"x": {"value": 3}, "text": {"field": "label"}}},
{
"width": 720, "height": 204,
"data": {"name": "cells"},
"mark": {"type": "rect", "stroke": "#000000", "strokeWidth": 1},
"encoding": {
 "x": {"field": "s", "type": "nominal", "sort": null, "axis": null, "scale": {"paddingInner": 0, "paddingOuter": 0}},
 "y": {"field": "r", "type": "ordinal", "axis": null, "scale": {"paddingInner": 0, "paddingOuter": 0}},
 "color": {"field": "v", "type": "ordinal", "legend": null,
  "scale": {"domain": [0,1,2,3,4,5,6,7,8,9,10,11], "range": ["#4500AD","#2700D1","#6B58EF","#8888FF","#C7C1FF","#D5D5FF","#FFC0E5","#FF8989","#FF7080","#FF5A5A","#EF4040","#D60C00"]}}
}
},
{"width": 39, "height": 204, "data": {"name": "genes"},
 "layer": [
  {"mark": {"type": "rect", "fill": "#ffffff", "stroke": "#c4c4c4", "strokeWidth": 1},
   "encoding": {"y": {"field": "row", "type": "ordinal", "axis": null, "scale": {"paddingInner": 0, "paddingOuter": 0}}}},
  {"mark": {"type": "text", "align": "center", "baseline": "middle", "fontSize": 7.5, "color": "#555555"},
   "encoding": {"y": {"field": "row", "type": "ordinal", "axis": null}, "x": {"value": 21}, "text": {"field": "row"}}}
 ]},
{"width": 100, "height": 204, "data": {"name": "genes"},
 "layer": [
  {"mark": {"type": "rect", "fill": "#ffffff", "stroke": "#c4c4c4", "strokeWidth": 1},
   "encoding": {"y": {"field": "row", "type": "ordinal", "axis": null, "scale": {"paddingInner": 0, "paddingOuter": 0}}}},
  {"mark": {"type": "text", "align": "left", "baseline": "middle", "fontSize": 7.5, "color": "#555555"},
   "encoding": {"y": {"field": "row", "type": "ordinal", "axis": null}, "x": {"value": 3}, "text": {"field": "feature"}}}
 ]},
{"width": 255, "height": 204, "data": {"name": "genes"},
 "layer": [
  {"mark": {"type": "rect", "fill": "#ffffff", "stroke": "#c4c4c4", "strokeWidth": 1},
   "encoding": {"y": {"field": "row", "type": "ordinal", "axis": null, "scale": {"paddingInner": 0, "paddingOuter": 0}}}},
  {"mark": {"type": "text", "align": "left", "baseline": "middle", "fontSize": 7.5, "color": "#555555"},
   "encoding": {"y": {"field": "row", "type": "ordinal", "axis": null}, "x": {"value": 3}, "text": {"field": "symbol"}}}
 ]}
]
}
